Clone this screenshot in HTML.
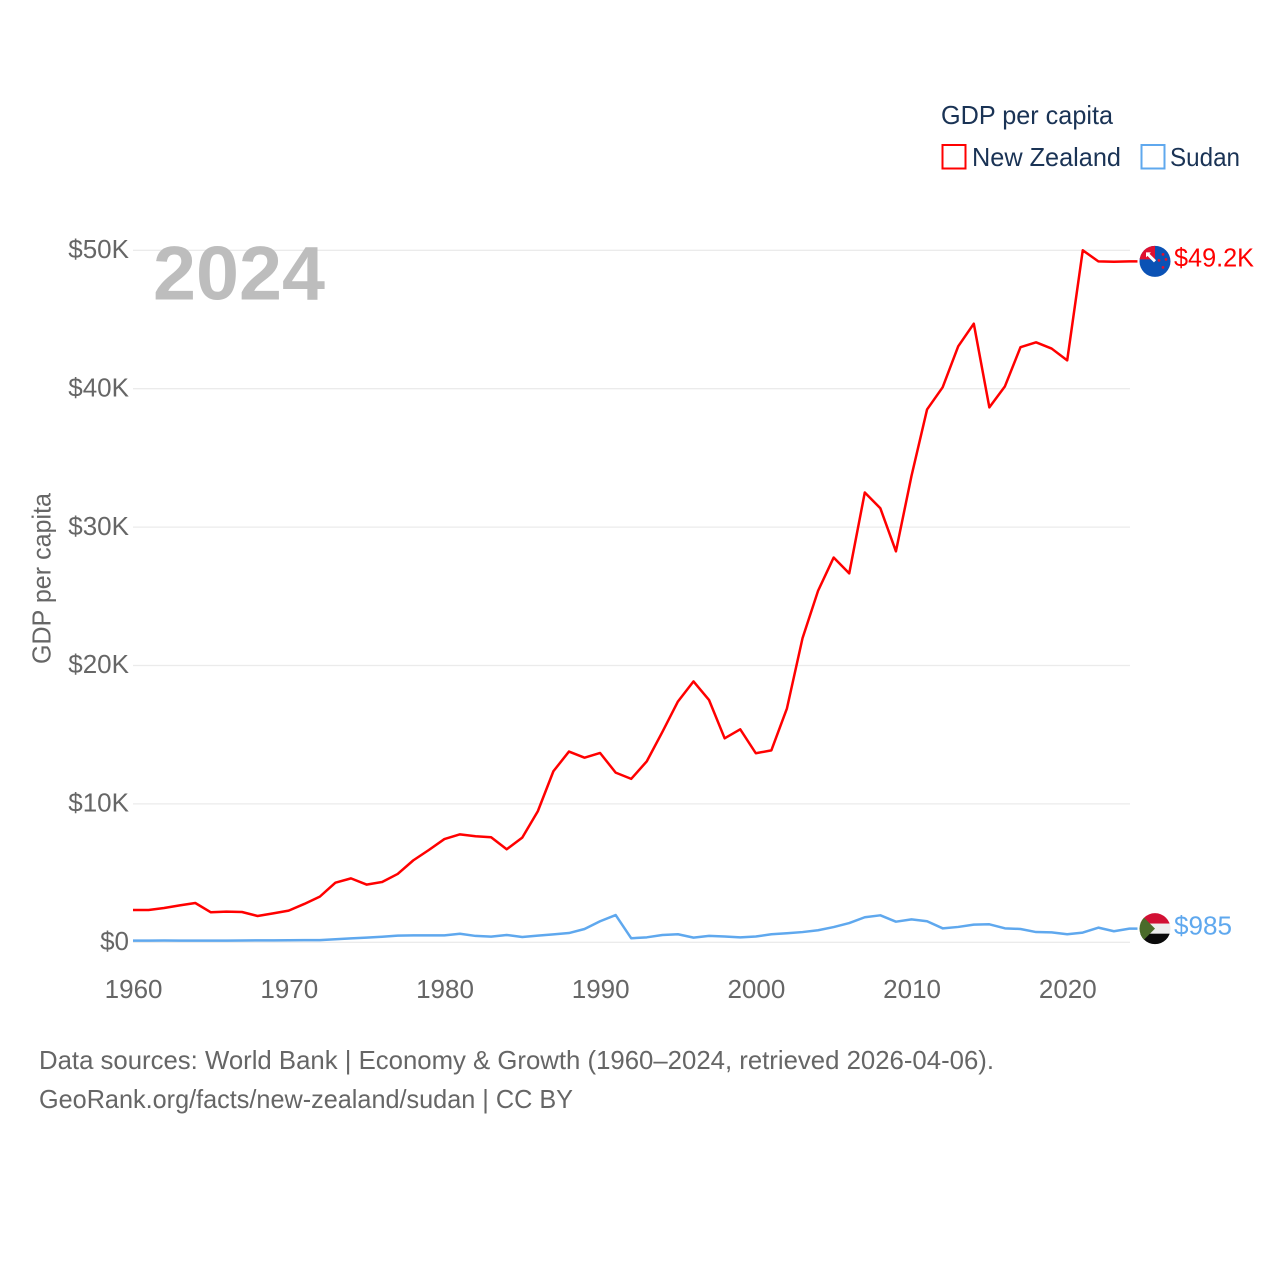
<!DOCTYPE html>
<html lang="en">
<head>
<meta charset="utf-8">
<title>GDP per capita: New Zealand and Sudan</title>
<style>
html,body{margin:0;padding:0;background:#fff;width:1280px;height:1280px;overflow:hidden}
svg{display:block;font-family:"Liberation Sans",sans-serif}
.axis{fill:#666;font-size:26px}
.leg{fill:#1a3355;font-size:26px}
.foot{fill:#666;font-size:26px}
</style>
</head>
<body>
<svg id="chart" width="1280" height="1280" viewBox="0 0 1280 1280" xmlns="http://www.w3.org/2000/svg">
  <defs>
    <clipPath id="clip-flag"><circle cx="0" cy="0" r="15.5"></circle></clipPath>
  </defs>
  <g id="grid-layer"></g>
  <text x="153" y="299.5" font-size="76" font-weight="700" fill="#bdbdbd" textLength="172" lengthAdjust="spacingAndGlyphs">2024</text>
  <g id="tick-layer"></g>
  <text class="axis" transform="translate(50.5,664) rotate(-90)" textLength="171" lengthAdjust="spacingAndGlyphs">GDP per capita</text>
  <g id="line-layer"></g>

  <g>
    <text class="leg" x="941" y="124" textLength="172" lengthAdjust="spacingAndGlyphs">GDP per capita</text>
    <rect x="942.5" y="145" width="23" height="23.5" fill="none" stroke="#ff0000" stroke-width="2"></rect>
    <text class="leg" x="972" y="166" textLength="149" lengthAdjust="spacingAndGlyphs">New Zealand</text>
    <rect x="1141.5" y="145" width="23" height="23.5" fill="none" stroke="#5fa8ee" stroke-width="2"></rect>
    <text class="leg" x="1170" y="166" textLength="70" lengthAdjust="spacingAndGlyphs">Sudan</text>
  </g>

  <g id="flag-nz" clip-path="url(#clip-flag)">
    <rect x="-16" y="-16" width="32" height="32" fill="#0b52b5"></rect>
    <rect x="-16" y="-16" width="16" height="14" fill="#e01030"></rect>
    <path d="M-8,-8 L0,0" stroke="#fff" stroke-width="3" fill="none"></path>
    <path d="M-9,-4 L-9,-9 L-4,-9 Z" fill="#fff"></path>
    <circle cx="8" cy="-7" r="1.4" fill="#e01030"></circle>
    <circle cx="4" cy="-1" r="1.4" fill="#e01030"></circle>
    <circle cx="11" cy="-2" r="1.4" fill="#e01030"></circle>
    <circle cx="8" cy="6" r="1.4" fill="#e01030"></circle>
  </g>
  <g id="flag-sd" clip-path="url(#clip-flag)">
    <rect x="-16" y="-16" width="32" height="11" fill="#d21034"></rect>
    <rect x="-16" y="-5" width="32" height="10" fill="#eeeeee"></rect>
    <rect x="-16" y="5" width="32" height="11" fill="#0a0a0a"></rect>
    <path d="M-16,-16 L0,0 L-16,16 Z" fill="#4a6b2a"></path>
  </g>
  <text id="end-label-nz" x="1174" font-size="26" fill="#ff0000" textLength="80" lengthAdjust="spacingAndGlyphs"></text>
  <text id="end-label-sd" x="1174" font-size="26" fill="#5fa8ee" textLength="58" lengthAdjust="spacingAndGlyphs"></text>

  <text class="foot" x="39" y="1069" textLength="955" lengthAdjust="spacingAndGlyphs">Data sources: World Bank | Economy &amp; Growth (1960–2024, retrieved 2026-04-06).</text>
  <text class="foot" x="39" y="1108" textLength="534" lengthAdjust="spacingAndGlyphs">GeoRank.org/facts/new-zealand/sudan | CC BY</text>
</svg>
<script>
const startYear = 1960;
const xTickYears = [1960, 1970, 1980, 1990, 2000, 2010, 2020];
const yTickValues = [0, 10, 20, 30, 40, 50];
const yTickLabels = ["$0", "$10K", "$20K", "$30K", "$40K", "$50K"];
const newZealand = [2.33,2.33,2.48,2.67,2.84,2.17,2.22,2.19,1.90,2.09,2.29,2.77,3.30,4.31,4.62,4.17,4.36,4.94,5.92,6.67,7.46,7.80,7.66,7.59,6.72,7.56,9.47,12.36,13.78,13.34,13.68,12.26,11.81,13.08,15.2,17.4,18.85,17.5,14.74,15.39,13.66,13.87,16.9,21.97,25.4,27.8,26.66,32.5,31.36,28.25,33.7,38.5,40.1,43.06,44.7,38.65,40.17,43.0,43.35,42.9,42.05,50.0,49.2,49.17,49.2];
const sudan = [0.12,0.12,0.13,0.12,0.12,0.12,0.12,0.13,0.14,0.14,0.15,0.16,0.16,0.22,0.28,0.34,0.40,0.48,0.50,0.50,0.50,0.62,0.46,0.41,0.53,0.38,0.48,0.57,0.67,0.96,1.52,1.97,0.29,0.36,0.53,0.58,0.34,0.46,0.42,0.36,0.42,0.58,0.65,0.74,0.87,1.10,1.39,1.81,1.95,1.49,1.66,1.52,1.01,1.11,1.28,1.30,1.01,0.96,0.74,0.72,0.58,0.70,1.06,0.80,0.985];
const newZealandLabel = "$49.2K";
const sudanLabel = "$985";

const NS = "http://www.w3.org/2000/svg";
function xScale(year) { return 133 + (year - startYear) * 15.57; }
function yScale(value) { return 942.3 - value * 13.84; }
function make(tag, attrs, parent) {
  const el = document.createElementNS(NS, tag);
  for (const k in attrs) el.setAttribute(k, attrs[k]);
  parent.appendChild(el);
  return el;
}
const gridLayer = document.getElementById("grid-layer");
const tickLayer = document.getElementById("tick-layer");
const lineLayer = document.getElementById("line-layer");
const lastYear = startYear + newZealand.length - 1;

yTickValues.forEach(function (v, i) {
  const line = make("line", {x1: 133, x2: 1130, y1: yScale(v), y2: yScale(v), stroke: "#ebebeb", "stroke-width": 1.3}, gridLayer);
  
  
  const label = make("text", {x: 129, y: yScale(v) + 7.7, "text-anchor": "end", class: "axis"}, tickLayer);
  
  
  label.textContent = yTickLabels[i];
});
xTickYears.forEach(function (year) {
  const label = make("text", {x: xScale(year) + 0.6, y: 998, "text-anchor": "middle", class: "axis"}, tickLayer);
  
  
  label.textContent = String(year);
});

function linePath(values) {
  const pts = values.map(function (v, i) {
    return xScale(startYear + i).toFixed(2) + "," + yScale(v).toFixed(2);
  });
  return "M" + pts.join("L") + "L" + (xScale(lastYear) + 8).toFixed(2) + "," + yScale(values[values.length - 1]).toFixed(2);
}
const nzLine = make("path", {d: linePath(newZealand), fill: "none", stroke: "#ff0000", "stroke-width": 2.5, "stroke-linejoin": "round"}, lineLayer);


const sdLine = make("path", {d: linePath(sudan), fill: "none", stroke: "#5fa8ee", "stroke-width": 2.5, "stroke-linejoin": "round"}, lineLayer);



const nzEndY = yScale(newZealand[newZealand.length - 1]);
const sdEndY = yScale(sudan[sudan.length - 1]);
document.getElementById("flag-nz").setAttribute("transform", "translate(1155," + nzEndY + ")");
document.getElementById("flag-sd").setAttribute("transform", "translate(1155," + sdEndY + ")");
const nzText = document.getElementById("end-label-nz");
nzText.setAttribute("y", nzEndY + 5);
nzText.textContent = newZealandLabel;
const sdText = document.getElementById("end-label-sd");
sdText.setAttribute("y", sdEndY + 6);
sdText.textContent = sudanLabel;
</script>
</body>
</html>
